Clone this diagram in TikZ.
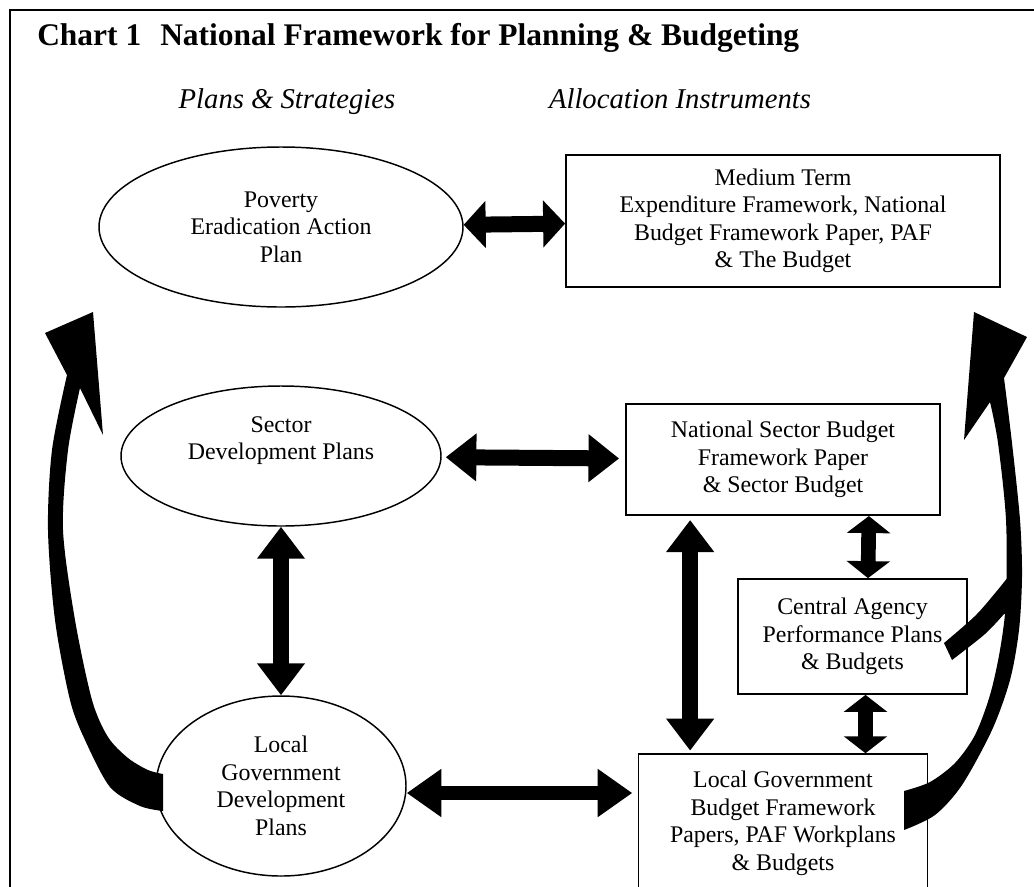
\documentclass[tikz,border=0pt]{standalone}
\usepackage{fontspec}
\setmainfont{Liberation Serif}
\usetikzlibrary{shapes.geometric,arrows.meta,calc}
\newcommand{\bodyfont}{\fontsize{17.9}{20.6}\selectfont}
\tikzset{plan/.style={draw,ellipse,line width=1.1pt,inner sep=0pt,align=center,font=\bodyfont},
  instr/.style={draw,rectangle,line width=1.3pt,inner sep=0pt,align=center,font=\bodyfont},
  dbl/.style={line width=12pt,{Triangle[length=#1,width=34.5pt]}-{Triangle[length=#1,width=34.5pt]}},
  dbl/.default=24pt,
  dblsmall/.style={line width=11pt,{Triangle[length=12.75pt,width=32pt]}-{Triangle[length=12.75pt,width=32pt]}}}

\begin{document}
\begin{tikzpicture}[x=0.75pt,y=-0.75pt]
        \useasboundingbox (0,0) rectangle (1034,886);
        \clip (0,0) rectangle (1034,886);
        \draw[line width=1.2pt] (10,10) rectangle (1060,910);
        \node[anchor=base west,inner sep=0pt,font=\fontsize{23.6}{28}\selectfont\bfseries] (chart) at (37,45) {Chart 1};
        \node[anchor=base west,inner sep=0pt,font=\fontsize{23.6}{28}\selectfont\bfseries] (title) at (160,45) {National Framework for Planning \& Budgeting};
        \node[anchor=base,inner sep=0pt,font=\fontsize{21.5}{25}\selectfont\itshape] (plans) at (287,108) {Plans \& Strategies};
        \node[anchor=base,inner sep=0pt,font=\fontsize{21.5}{25}\selectfont\itshape] (alloc) at (680,108) {Allocation Instruments};
        \node[plan,minimum width=273pt,minimum height=120pt] (pov) at (281,227) {Poverty\\Eradication Action\\Plan};
        \node[plan,minimum width=240pt,minimum height=105pt,below of=pov,node distance=171.75pt] (sec) {Sector\\Development Plans\\\strut};
        \node[plan,minimum width=187.5pt,minimum height=135pt,below of=sec,node distance=247.5pt] (lgp) {Local\\Government\\Development\\Plans};
        \node[instr,minimum width=325.5pt,minimum height=99pt] (mtef) at (783,221) {Medium Term\\Expenditure Framework, National\\Budget Framework Paper, PAF\\\& The Budget};
        \node[instr,minimum width=235.5pt,minimum height=83.25pt,below of=mtef,node distance=179pt] (nsb) {National Sector Budget\\Framework Paper\\\& Sector Budget};
        \node[instr,minimum width=171.75pt,minimum height=86.25pt] (capp) at (852.5,636.5) {Central Agency\\Performance Plans\\\& Budgets};
        \node[instr,minimum width=216.75pt,minimum height=103.5pt,below of=nsb,node distance=272.6pt] (lgb) {Local Government\\Budget Framework\\Papers, PAF Workplans\\\& Budgets};
        \coordinate (lgpe) at ($(lgp.east)+(0,7)$);
        \coordinate (lgbw) at (lgpe -| lgb.west);
        \draw[dbl=16.5pt] (pov) -- (mtef);
        \draw[dbl=23pt,shorten <=3pt,shorten >=4.5pt] (sec) -- (nsb);
        \draw[dbl] (sec) -- (lgp);
        \draw[dbl,shorten <=3pt,shorten >=2pt] ($(nsb.south west)+(65,0)$) -- ($(lgb.north west)+(52.5,0)$);
        \draw[dblsmall] ($(nsb.south east)+(-72,0)$) -- ($(capp.north)+(15.5,0)$);
        \draw[dblsmall] ($(capp.south)+(13,0)$) -- ($(lgb.north)+(82.5,0)$);
        \draw[dbl=26pt,line width=10.5pt,shorten >=4pt] (lgpe) -- (lgbw);
        \fill (163,811) -- (163,774) -- plot[smooth] coordinates {(163,774) (148,770) (128,758) (108,737) (92,700) (75,620) (63,530) (68,450) (80,388)}
          -- (103,435) -- (93,312) -- (45,333) -- (67,375)
          -- plot[smooth] coordinates {(67,375) (52,450) (48,530) (55,620) (70,700) (85,740) (110,787) (140,806) (163,811)} -- cycle;
        \fill (904,830) -- (904,791) -- plot[smooth] coordinates {(904,791) (930,782) (955,763) (975,735) (990,695) (1000,650) (1006,600) (1006,520) (998,443) (990,402)}
          -- (964,440) -- (974,312) -- (1027,337) -- (1004,378)
          -- plot[smooth] coordinates {(1004,378) (1012,443) (1020,520) (1022,576) (1019,630) (1010,680) (992,730) (962,785) (935,815) (904,830)} -- cycle;
        \fill (944,643) -- plot[smooth] coordinates {(944,643) (975,616) (996,592) (1012,572)} -- (1012,612)
          -- plot[smooth] coordinates {(1004,614) (985,634) (952,660)} -- cycle;
    \end{tikzpicture}
\end{document}
